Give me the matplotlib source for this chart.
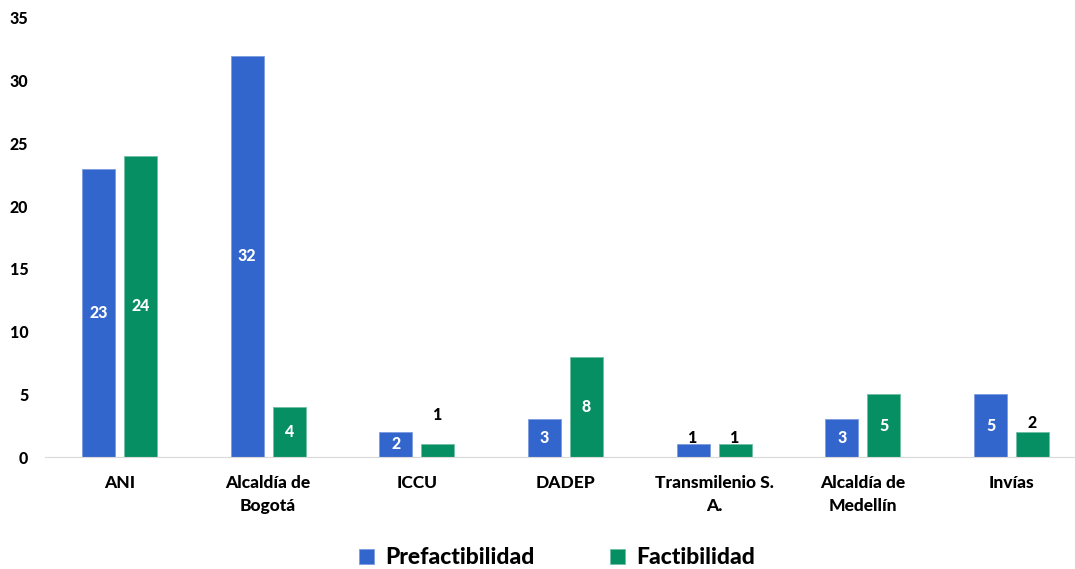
import numpy as np
import matplotlib.pyplot as plt

# Data
categories = ["ANI", "Alcaldía de\nBogotá", "ICCU", "DADEP",
              "Transmilenio S.\nA.", "Alcaldía de\nMedellín", "Invías"]
prefactibilidad = [23, 32, 2, 3, 1, 3, 5]
factibilidad = [24, 4, 1, 8, 1, 5, 2]

blue = "#3366CC"
green = "#078F64"
plt.rcParams['font.family'] = ['Lato', 'DejaVu Sans']
heavy = "black"

fig = plt.figure(figsize=(10.75, 5.69), dpi=100)
ax = fig.add_axes([45 / 1075, 1 - 457 / 569, 1030 / 1075, (457 - 18) / 569])

x = np.arange(len(categories))
w = 0.222
off = 0.141
b1 = ax.bar(x - off, prefactibilidad, w, color=blue, edgecolor="#7d9be0",
            linewidth=0.6, label="Prefactibilidad")
b2 = ax.bar(x + off, factibilidad, w, color=green, edgecolor="#6fbfa3",
            linewidth=0.6, label="Factibilidad")

# labels: white in the middle of the bar, small ones in black above
outside = {(1, 2): 3.35, (0, 4): 1.5, (1, 4): 1.5, (1, 6): 2.7}
for s, vals in enumerate([prefactibilidad, factibilidad]):
    xs = x - off if s == 0 else x + off
    for i, v in enumerate(vals):
        if (s, i) in outside:
            ax.text(xs[i], outside[(s, i)], str(v), ha="center", va="center",
                    color="black", fontsize=11.5, fontweight=heavy)
        else:
            ax.text(xs[i], v / 2, str(v), ha="center", va="center",
                    color="white", fontsize=11.5, fontweight=heavy)

ax.set_ylim(0, 35)
ax.set_xlim(-0.5, -0.5 + 1030 / 148.7)
ax.set_yticks(range(0, 36, 5))
ax.set_xticks(x)
ax.set_xticklabels(categories, fontsize=12.5, fontweight=heavy, linespacing=1.55)
for lab in ax.get_yticklabels():
    lab.set_fontsize(11.5)
    lab.set_fontweight(heavy)
ax.tick_params(axis="y", length=0, pad=12)
ax.tick_params(axis="x", length=0, pad=13)
for sp in ["top", "right", "left"]:
    ax.spines[sp].set_visible(False)
ax.spines["bottom"].set_color("#d9d9d9")

fig.legend(handles=[b1, b2], loc="center", bbox_to_anchor=(557 / 1075, 1 - 558 / 569),
           ncol=2, frameon=False, prop={"weight": heavy, "size": 16.5},
           handlelength=0.65, handleheight=0.65, columnspacing=3.3, handletextpad=0.5)

fig.savefig("out.png", dpi=100)
